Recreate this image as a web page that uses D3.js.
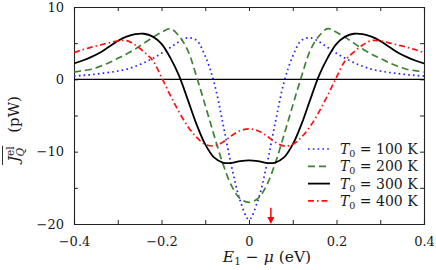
<!DOCTYPE html>
<html>
<head>
<meta charset="utf-8">
<script src="https://cdn.jsdelivr.net/npm/d3@7"></script>
<style>
  html, body { margin: 0; padding: 0; background: #fff; }
  svg text { font-family: "DejaVu Serif", "Liberation Serif", serif; }
</style>
</head>
<body>
<div id="chart"></div>
<script>
// energy grid E1 - mu (eV)
const energies = [
  -0.40, -0.38, -0.36, -0.34, -0.32, -0.30, -0.28, -0.26, -0.24, -0.22, -0.20,
  -0.18, -0.16, -0.14, -0.12, -0.10, -0.08, -0.06, -0.04, -0.02, 0.00,
  0.02, 0.04, 0.06, 0.08, 0.10, 0.12, 0.14, 0.16, 0.18, 0.20,
  0.22, 0.24, 0.26, 0.28, 0.30, 0.32, 0.34, 0.36, 0.38, 0.40
];
const heat100 = [
  0.45, 0.55, 0.65, 0.8, 0.95, 1.15, 1.4, 1.8, 2.3, 2.9, 3.6,
  4.4, 5.2, 5.75, 5.4, 3.2, -0.4, -6.0, -12.0, -16.8, -19.4,
  -16.8, -12.0, -6.0, -0.4, 3.2, 5.4, 5.75, 5.2, 4.4, 3.6,
  2.9, 2.3, 1.8, 1.4, 1.15, 0.95, 0.8, 0.65, 0.55, 0.45
];
const heat200 = [
  1.0, 1.2, 1.4, 1.8, 2.3, 2.9, 3.5, 4.2, 5.0, 5.8, 6.5,
  7.0, 6.0, 4.0, 0.4, -3.6, -7.7, -11.6, -14.7, -16.5, -17.0,
  -16.5, -14.7, -11.6, -7.7, -3.6, 0.4, 4.0, 6.0, 7.0, 6.5,
  5.8, 5.0, 4.2, 3.5, 2.9, 2.3, 1.8, 1.4, 1.2, 1.0
];
const heat300 = [
  2.2, 2.6, 3.1, 3.7, 4.5, 5.3, 5.9, 6.25, 6.3, 5.9, 4.9,
  3.0, 0.5, -2.8, -6.2, -9.0, -10.8, -11.5, -11.55, -11.3, -11.2,
  -11.3, -11.55, -11.5, -10.8, -9.0, -6.2, -2.8, 0.5, 3.0, 4.9,
  5.9, 6.3, 6.25, 5.9, 5.3, 4.5, 3.7, 3.1, 2.6, 2.2
];
const heat400 = [
  3.7, 4.1, 4.45, 4.75, 5.05, 5.3, 5.35, 4.75, 3.8, 2.6, 0.3,
  -2.2, -4.5, -6.5, -8.0, -9.0, -9.2, -8.7, -7.8, -7.1, -6.85,
  -7.1, -7.8, -8.7, -9.2, -9.0, -8.0, -6.5, -4.5, -2.2, 0.3,
  2.6, 3.8, 4.75, 5.35, 5.3, 5.05, 4.75, 4.45, 4.1, 3.7
];
const temps = ['100', '200', '300', '400'];
const xTicks = [-0.4, -0.3, -0.2, -0.1, 0, 0.1, 0.2, 0.3, 0.4];
const yTicks = [-20, -15, -10, -5, 0, 5, 10];
const markerE = 0.05;

const W = 436, H = 270;
const margin = { top: 7, right: 12, bottom: 46, left: 74 };
const innerW = W - margin.left - margin.right;
const innerH = H - margin.top - margin.bottom;

const svg = d3.select('#chart').append('svg')
  .attr('width', W).attr('height', H);
const g = svg.append('g').attr('transform', `translate(${margin.left},${margin.top})`);

const x = d3.scaleLinear().domain([-0.4, 0.4]).range([0, innerW]);
const y = d3.scaleLinear().domain([-20, 10]).range([innerH, 0]);

const xFmt = (d) => (Math.abs(Math.round(d * 10)) % 2 === 1 ? '' : d === 0 ? '0' : d3.format('.1f')(d));
const yFmt = (d) => (d % 10 !== 0 ? '' : d3.format('d')(d));

// axes, ticks pointing inwards on all four sides
const axB = g.append('g').attr('transform', `translate(0,${innerH})`)
  .call(d3.axisBottom(x).tickValues(xTicks).tickSize(-4).tickPadding(10).tickFormat(xFmt));
const axT = g.append('g')
  .call(d3.axisTop(x).tickValues(xTicks).tickSize(-4).tickFormat(''));
const axL = g.append('g')
  .call(d3.axisLeft(y).tickValues(yTicks).tickSize(-4).tickPadding(10).tickFormat(yFmt));
const axR = g.append('g').attr('transform', `translate(${innerW},0)`)
  .call(d3.axisRight(y).tickValues(yTicks).tickSize(-4).tickFormat(''));
[axB, axT, axL, axR].forEach((a) => {
  a.selectAll('.domain').attr('stroke', '#222').attr('stroke-width', 1.1);
  a.selectAll('line').attr('stroke', '#222');
  a.selectAll('text').attr('fill', '#1a1a1a').attr('font-size', 13)
    .attr('font-family', '"DejaVu Serif", serif');
});
axB.selectAll('text').attr('dy', '0.9em');

// zero line
g.append('line').attr('x1', 0).attr('x2', innerW)
  .attr('y1', y(0)).attr('y2', y(0)).attr('stroke', '#000').attr('stroke-width', 1.2);

const series = [
  { t: temps[0], vals: heat100, color: '#1f1fff', dash: '1.6,3.2', w: 1.7 },
  { t: temps[1], vals: heat200, color: '#3b8232', dash: '7,4', w: 1.7 },
  { t: temps[2], vals: heat300, color: '#000000', dash: null, w: 1.8 },
  { t: temps[3], vals: heat400, color: '#ff1010', dash: '6,3,1.5,3', w: 1.7 }
];

const line = d3.line()
  .x((d, i) => x(energies[i]))
  .y((d) => y(d))
  .curve(d3.curveCatmullRom.alpha(0.5));

svg.append('clipPath').attr('id', 'clip')
  .append('rect').attr('width', innerW).attr('height', innerH);

const curves = g.append('g').attr('clip-path', 'url(#clip)');
series.forEach((s) => {
  curves.append('path')
    .attr('d', line(s.vals))
    .attr('fill', 'none')
    .attr('stroke', s.color)
    .attr('stroke-width', s.w)
    .attr('stroke-dasharray', s.dash);
});

// red arrow marking E1 - mu = 0.05 eV
const ax0 = x(markerE);
g.append('line').attr('x1', ax0).attr('x2', ax0)
  .attr('y1', y(-17.75)).attr('y2', innerH - 5)
  .attr('stroke', '#ff0000').attr('stroke-width', 1.5);
g.append('path')
  .attr('d', `M${ax0 - 3.5},${innerH - 7} L${ax0 + 3.5},${innerH - 7} L${ax0},${innerH} Z`)
  .attr('fill', '#ff0000');

// legend
const leg = g.append('g').attr('transform', `translate(${308 - margin.left},${149 - margin.top})`);
series.forEach((s, i) => {
  const row = leg.append('g').attr('transform', `translate(0,${i * 17.3})`);
  row.append('line').attr('x1', 0).attr('x2', 22).attr('y1', 0).attr('y2', 0)
    .attr('stroke', s.color).attr('stroke-width', s.w)
    .attr('stroke-dasharray', s.dash);
  const t = row.append('text').attr('x', 32).attr('y', 5).attr('font-size', 14).attr('fill', '#1a1a1a');
  t.append('tspan').attr('font-style', 'italic').text('T');
  t.append('tspan').attr('font-size', 9.5).attr('dy', 3).text('0');
  t.append('tspan').attr('dy', -3).text(` = ${s.t} K`);
});

// x label
const xl = svg.append('text')
  .attr('x', 267).attr('y', 262).attr('text-anchor', 'middle')
  .attr('font-size', 15.5).attr('fill', '#1a1a1a');
xl.append('tspan').attr('font-style', 'italic').text('E');
xl.append('tspan').attr('font-size', 10.5).attr('dy', 3).text('1');
xl.append('tspan').attr('dy', -3).text(' − ');
xl.append('tspan').attr('font-style', 'italic').text('μ');
xl.append('tspan').text(' (eV)');

// y label (rotated)
const yl = svg.append('g').attr('transform', 'translate(19,129) rotate(-90)');
const jt = yl.append('text').attr('font-size', 15).attr('fill', '#1a1a1a');
jt.append('tspan').attr('font-style', 'italic').text('J');
jt.append('tspan').attr('font-size', 10.5).attr('dy', -5.5).text('el');
jt.append('tspan').attr('font-size', 10.5).attr('font-style', 'italic').attr('dx', -10).attr('dy', 10).text('Q');
const pw = yl.append('text').attr('font-size', 15).attr('fill', '#1a1a1a').text('(pW)');
const jw = jt.node().getBBox().width;
const pwW = pw.node().getComputedTextLength();
const gap = 10;
const total = jw + gap + pwW;
jt.attr('x', -total / 2);
pw.attr('x', -total / 2 + jw + gap);
const jb = jt.node().getBBox();
yl.append('line')
  .attr('x1', jb.x).attr('x2', jb.x + jb.width)
  .attr('y1', jb.y - 1).attr('y2', jb.y - 1)
  .attr('stroke', '#1a1a1a').attr('stroke-width', 0.9);
</script>
</body>
</html>
